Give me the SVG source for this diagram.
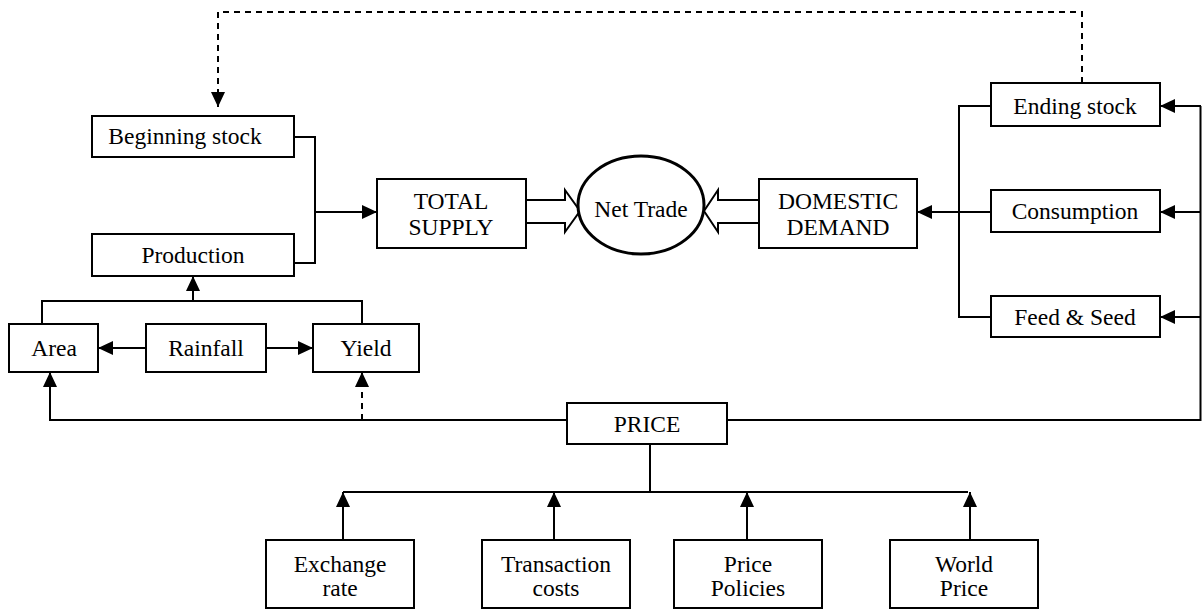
<svg xmlns="http://www.w3.org/2000/svg" width="1202" height="610" viewBox="0 0 1202 610">
<style>
.box{fill:#fff;stroke:#000;stroke-width:2}
.t{font-family:"Liberation Serif","Times New Roman",serif;font-size:23.5px;fill:#000;text-anchor:middle}
.c{fill:none;stroke:#000;stroke-width:2}
.a{marker-end:url(#ah)}
.d{stroke-dasharray:6,5}
</style>
<defs>
<marker id="ah" markerUnits="userSpaceOnUse" markerWidth="15" markerHeight="14" refX="15" refY="7" orient="auto" viewBox="0 0 15 14">
<path d="M0,0 L15,7 L0,14 z" fill="#000"/>
</marker>
</defs>
<rect width="1202" height="610" fill="#fff"/>
<g id="connectors">
<path class="c d" d="M1082,83 V12 H218 V94"/>
<path class="c a d" d="M218,90 V107"/>
<path class="c" d="M294,137 H315 V263 H294"/>
<path class="c a" d="M315,212 H377"/>
<path class="c" d="M42,324 V301 H362 V324"/>
<path class="c a" d="M193,301 V276"/>
<path class="c a" d="M146,348 H98"/>
<path class="c a" d="M266,348 H313"/>
<path class="c a" d="M567,420 H50 V372"/>
<path class="c a d" d="M362,420 V372"/>
<path class="c" d="M1200.5,106 V420 H727"/>
<path class="c a" d="M1201,106 H1160"/>
<path class="c a" d="M1201,212 H1160"/>
<path class="c a" d="M1201,317 H1160"/>
<path class="c" d="M991,106 H959 V317 H991"/>
<path class="c a" d="M991,212 H917"/>
<path class="c" d="M650,444 V492"/>
<path class="c" d="M343,492 H968"/>
<path class="c a" d="M343,540 V492"/>
<path class="c a" d="M554,540 V492"/>
<path class="c a" d="M747,540 V492"/>
<path class="c a" d="M970,540 V492"/>
<path class="c" d="M526,200 H565 V190 L580,211 L565,232 V223 H526"/>
<path class="c" d="M759,200 H718 V190 L704,211 L718,232 V223 H759"/>
</g>
<g id="beginning-stock"><rect class="box" x="92" y="116" width="202" height="41"/><text class="t" x="185" y="144">Beginning stock</text></g>
<g id="production"><rect class="box" x="92" y="234" width="202" height="42"/><text class="t" x="193" y="263">Production</text></g>
<g id="area"><rect class="box" x="9" y="324" width="89" height="48"/><text class="t" x="54" y="356">Area</text></g>
<g id="rainfall"><rect class="box" x="146" y="324" width="120" height="48"/><text class="t" x="206" y="356">Rainfall</text></g>
<g id="yield"><rect class="box" x="313" y="324" width="106" height="48"/><text class="t" x="366" y="356">Yield</text></g>
<g id="total-supply"><rect class="box" x="377" y="179" width="149" height="69"/><text class="t" x="451" y="209">TOTAL</text><text class="t" x="451" y="235">SUPPLY</text></g>
<g id="net-trade"><ellipse cx="641" cy="205" rx="63" ry="49" fill="#fff" stroke="#000" stroke-width="3"/><text class="t" x="641" y="217">Net Trade</text></g>
<g id="domestic-demand"><rect class="box" x="759" y="179" width="158" height="69"/><text class="t" x="838" y="209">DOMESTIC</text><text class="t" x="838" y="235">DEMAND</text></g>
<g id="ending-stock"><rect class="box" x="991" y="83" width="169" height="43"/><text class="t" x="1075" y="114">Ending stock</text></g>
<g id="consumption"><rect class="box" x="991" y="190" width="169" height="42"/><text class="t" x="1075" y="219">Consumption</text></g>
<g id="feed-seed"><rect class="box" x="991" y="296" width="169" height="41"/><text class="t" x="1075" y="325">Feed &amp; Seed</text></g>
<g id="price"><rect class="box" x="567" y="403" width="160" height="41"/><text class="t" x="647" y="432">PRICE</text></g>
<g id="exchange-rate"><rect class="box" x="266" y="540" width="148" height="68"/><text class="t" x="340" y="572">Exchange</text><text class="t" x="340" y="596">rate</text></g>
<g id="transaction-costs"><rect class="box" x="482" y="540" width="148" height="68"/><text class="t" x="556" y="572">Transaction</text><text class="t" x="556" y="596">costs</text></g>
<g id="price-policies"><rect class="box" x="674" y="540" width="148" height="68"/><text class="t" x="748" y="572">Price</text><text class="t" x="748" y="596">Policies</text></g>
<g id="world-price"><rect class="box" x="890" y="540" width="148" height="68"/><text class="t" x="964" y="572">World</text><text class="t" x="964" y="596">Price</text></g>
</svg>
